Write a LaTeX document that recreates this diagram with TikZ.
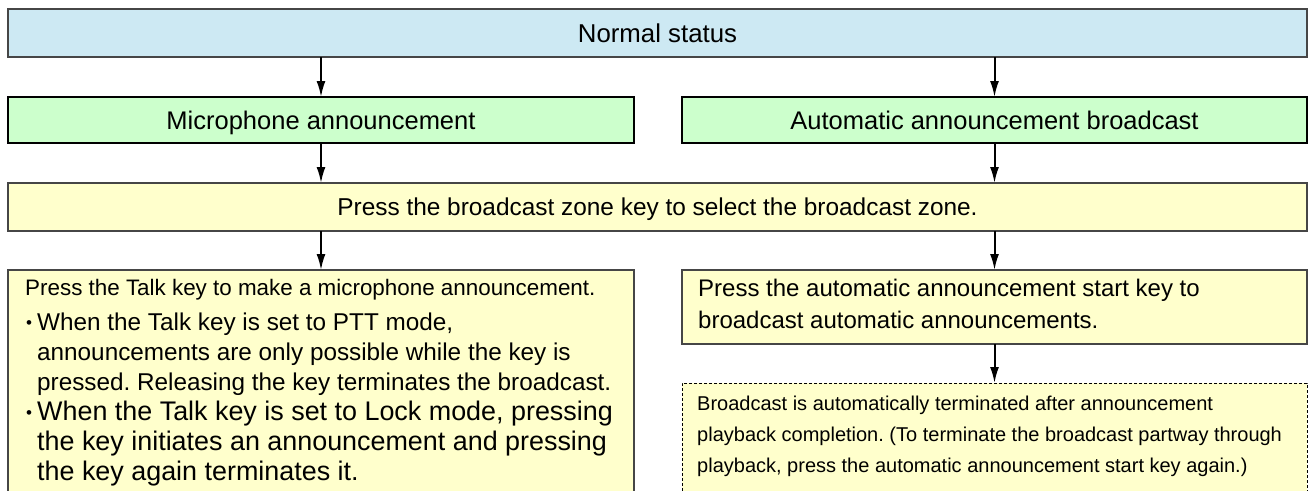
\documentclass[tikz,border=0pt]{standalone}
\usepackage{fontspec}
\setmainfont{Liberation Sans}
\frenchspacing
\usetikzlibrary{positioning,arrows.meta}
\definecolor{statusblue}{RGB}{205,233,243}
\definecolor{modegreen}{RGB}{204,255,204}
\definecolor{stepyellow}{RGB}{255,255,204}
\definecolor{edgegray}{RGB}{70,70,70}
\newcommand{\talkdot}{\hspace*{1pt}\makebox[11pt][l]{\raisebox{2pt}{\fontsize{17}{20}\selectfont\textbullet}}}
\tikzset{
status/.style  = {draw=edgegray, line width=1.2pt, fill=statusblue, rectangle, minimum height=48pt, minimum width=1299pt, outer sep=0pt, text height=18.5pt, text depth=0.5pt, font=\fontsize{25.8}{30}\selectfont},
mode/.style    = {draw=black, line width=2.5pt, fill=modegreen, rectangle, minimum height=46pt, minimum width=626pt, outer sep=0pt, text height=18.5pt, text depth=0.5pt, font=\fontsize{25.5}{30}\selectfont},
zonebox/.style = {draw=edgegray, line width=1.2pt, fill=stepyellow, rectangle, minimum height=48pt, minimum width=1299pt, outer sep=0pt, text height=17.5pt, text depth=0.5pt, font=\fontsize{24.4}{30}\selectfont},
action/.style  = {draw=edgegray, line width=1.2pt, fill=stepyellow, rectangle, minimum width=626pt, outer sep=0pt},
result/.style  = {draw=black, line width=1pt, dash pattern=on 3pt off 2pt, fill=stepyellow, rectangle, minimum width=625pt, outer sep=0pt},
note/.style    = {inner sep=0pt, anchor=north west, align=left},
flow/.style    = {->, line width=2pt}
}

\begin{document}
\begin{tikzpicture}[x=1pt, y=1pt, >={Latex[length=16pt,width=9pt]}]
  \path[use as bounding box, clip] (0,0) rectangle (1309,-490);

  \node [status] (normal) at (657.5,-33) {Normal status};
  \node [mode, below=40pt of normal.south west, anchor=north west]                      (mic)   {Microphone announcement};
  \node [mode, below=40pt of normal.south east, anchor=north east, minimum width=625pt] (auto)  {Automatic announcement broadcast};
  \node [zonebox, below=40pt of mic.south west, anchor=north west]                      (zone)  {Press the broadcast zone key to select the broadcast zone.};
  \node [action, below=39pt of zone.south west, anchor=north west, minimum height=240pt] (talk)  {};
  \node [action, below=39pt of zone.south east, anchor=north east, minimum width=625pt, minimum height=74pt] (start) {};
  \node [result, below=39pt of start.south west, anchor=north west, minimum height=150pt] (stop) {};

  \node [note, font=\fontsize{24.3}{30}\selectfont] (talktext) at ([shift={(17pt,-9.5pt)}]talk.north west)
    {{\fontsize{22.4}{30}\selectfont Press the Talk key to make a microphone announcement.}\\[5pt]
     \talkdot When the Talk key is set to PTT mode,\\
     \hspace*{12pt}announcements are only possible while the key is\\
     \hspace*{12pt}pressed. Releasing the key terminates the broadcast.\\
     {\fontsize{26.9}{30}\selectfont\talkdot When the Talk key is set to Lock mode, pressing}\\
     {\fontsize{26.9}{30}\selectfont\hspace*{12pt}the key initiates an announcement and pressing}\\
     {\fontsize{26.9}{30}\selectfont\hspace*{12pt}the key again terminates it.}};
  \node [note, font=\fontsize{24}{32}\selectfont] (starttext) at ([shift={(16pt,-9pt)}]start.north west)
    {Press the automatic announcement start key to\\
     broadcast automatic announcements.};
  \node [note, font=\fontsize{20}{31}\selectfont] (stoptext) at ([shift={(15pt,-12.4pt)}]stop.north west)
    {Broadcast is automatically terminated after announcement\\
     playback completion. (To terminate the broadcast partway through\\
     playback, press the automatic announcement start key again.)};

  \draw [flow] (normal.south -| mic.north)  -- (mic.north);
  \draw [flow] (normal.south -| auto.north) -- (auto.north);
  \draw [flow] (mic.south)  -- (zone.north -| mic.south);
  \draw [flow] (auto.south) -- (zone.north -| auto.south);
  \draw [flow] (zone.south -| talk.north)  -- (talk.north);
  \draw [flow] (zone.south -| start.north) -- (start.north);
  \draw [flow] (start.south) -- (stop.north);
\end{tikzpicture}
\end{document}
